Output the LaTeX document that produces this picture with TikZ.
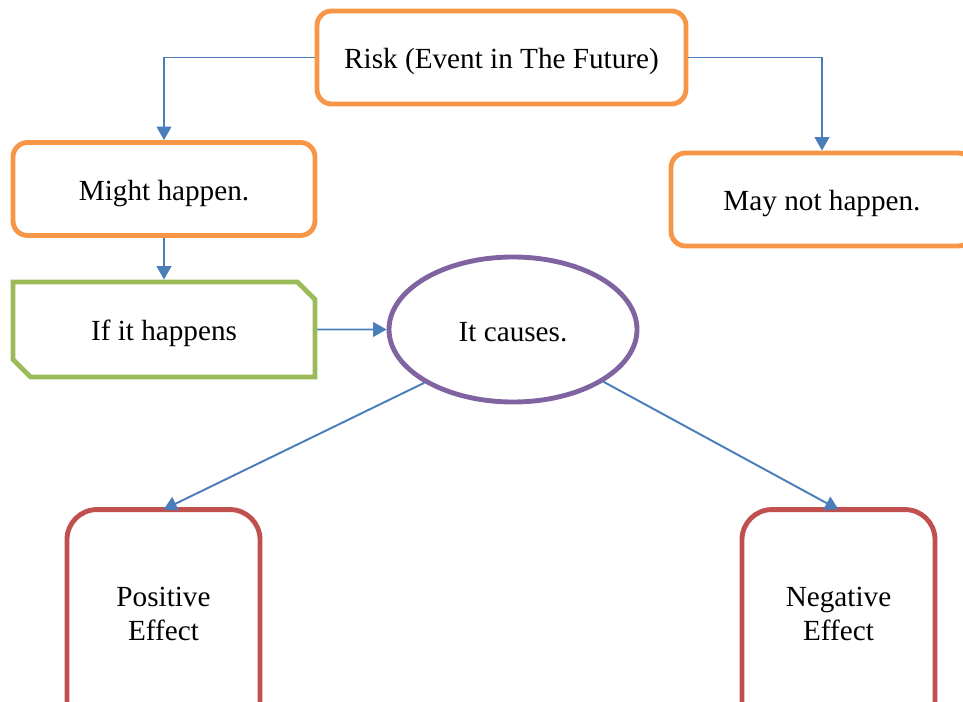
\documentclass[tikz,border=0pt]{standalone}
\usepackage{fontspec}
\setmainfont{Liberation Serif}
\usetikzlibrary{arrows.meta,shapes.geometric,shapes.misc,positioning}
\definecolor{orng}{HTML}{F79646}
\definecolor{grn}{HTML}{9BBB59}
\definecolor{purp}{HTML}{8064A2}
\definecolor{rd}{HTML}{C0504D}
\definecolor{blu}{HTML}{4A7EBB}
\newdimen\pxu
\pxu=0.411pt

\begin{document}
\begin{tikzpicture}
[x=0.411pt,y=-0.411pt,
font=\fontsize{12}{14}\selectfont,
O/.style={draw=orng,line width=2pt,rounded corners=6pt,fill=white,
  minimum width=302\pxu,minimum height=93\pxu,inner sep=0pt,
  text height=9.2pt,text depth=0pt},
G/.style={draw=grn,line width=2pt,fill=white,chamfered rectangle,
  chamfered rectangle corners={north east,south west},chamfered rectangle sep=3.6pt,
  minimum width=302\pxu,minimum height=95\pxu,inner sep=0pt,
  text height=9.2pt,text depth=0pt},
P/.style={draw=purp,line width=2pt,ellipse,fill=white,
  minimum width=248\pxu,minimum height=145\pxu,inner sep=0pt,
  text height=9.5pt,text depth=0pt},
E/.style={align=center,minimum width=193\pxu,minimum height=204\pxu,
  inner sep=0pt,outer xsep=0pt,outer ysep=1pt},
Eline/.style={draw=rd,line width=2pt,rounded corners=30\pxu},
aedge/.style={blu,line width=0.8pt,>={Triangle[length=5.5pt,width=6pt]},->}]
%%
\useasboundingbox (0,0) rectangle (963,702);
%%
%%%%%%%%%%%%%%%%%%
% top row
%%%%%%%%%%%%%%%%%%
\node[O,minimum width=369\pxu] (risk) at (501.5,57.5) {Risk (Event in The Future)};
\node[O] (might) at (164,189) {Might happen.};
\node[O] (maynot) at (822,199.5) {May not happen.};
%%
%%%%%%%%%%%%%%%%%%
% middle
%%%%%%%%%%%%%%%%%%
\node[G] (ifit) at (164,329.5) {If it happens};
\node[P] (cause) at (513,329.5) {It causes.};
%%
%%%%%%%%%%%%%%%%%%
% effects
%%%%%%%%%%%%%%%%%%
\node[E] (pos) at (163.5,614) {Positive\\Effect};
\draw[Eline] ([yshift=-60\pxu]pos.south west) |- (pos.north) -| ([yshift=-60\pxu]pos.south east);
%%
\node[E] (neg) at (838.5,614) {Negative\\Effect};
\draw[Eline] ([yshift=-60\pxu]neg.south west) |- (neg.north) -| ([yshift=-60\pxu]neg.south east);
%%
%% edges
\draw[aedge] (risk.west) -| (might.north);
\draw[aedge] (risk.east) -| (maynot.north);
\draw[aedge] (might) -- (ifit);
\draw[aedge] (ifit) -- (cause);
\draw[aedge] (cause.211) -- (pos.north);
\draw[aedge] (cause.330) -- (neg.north);
%%
\end{tikzpicture}
\end{document}
